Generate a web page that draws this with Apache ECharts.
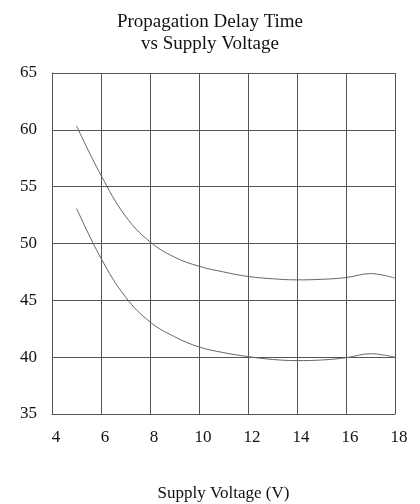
<!DOCTYPE html>
<html>
<head>
<meta charset="utf-8">
<script src="https://cdn.jsdelivr.net/npm/echarts@6/dist/echarts.min.js"></script>
<style>html,body{margin:0;padding:0;background:#fff}#c{width:420px;height:504px}</style>
</head>
<body>
<div id="c"></div>
<script>
var voltage = [5, 6, 7, 8, 9, 10, 11, 12, 13, 14, 15, 16, 17, 18];
var upperDelay = [60.35, 56.0, 52.4, 50.15, 48.8, 48.0, 47.5, 47.1, 46.9, 46.8, 46.85, 47.0, 47.35, 46.95];
var lowerDelay = [53.1, 48.7, 45.3, 43.1, 41.8, 40.9, 40.4, 40.05, 39.8, 39.7, 39.75, 39.95, 40.3, 40.0];
var titleText = 'Propagation Delay Time\nvs Supply Voltage';
var xName = 'Supply Voltage (V)';

function pairs(xs, ys) { return xs.map(function (x, i) { return [x, ys[i]]; }); }

var font = '"Liberation Serif", "Times New Roman", serif';
var chart = echarts.init(document.getElementById('c'));
chart.setOption({
  backgroundColor: '#fff',
  animation: false,
  title: {
    text: titleText,
    left: 'center',
    top: 6,
    textStyle: { fontFamily: font, fontWeight: 'normal', fontSize: 19, color: '#111', lineHeight: 22 }
  },
  grid: { left: 52, right: 25, top: 73, bottom: 90, containLabel: false, outerBoundsMode: 'none' },
  xAxis: {
    type: 'value', min: 4, max: 18, interval: 2,
    name: xName, nameLocation: 'middle', nameGap: 71,
    nameTextStyle: { fontFamily: font, fontSize: 17, color: '#111' },
    axisLine: { show: true, lineStyle: { color: '#555', width: 1 } },
    axisTick: { show: false },
    axisLabel: { fontFamily: font, fontSize: 17, color: '#111', margin: 15, padding: [0, 0, 0, 8] },
    splitLine: { show: true, lineStyle: { color: '#555', width: 1 } }
  },
  yAxis: {
    type: 'value', min: 35, max: 65, interval: 5,
    axisLine: { show: true, lineStyle: { color: '#555', width: 1 } },
    axisTick: { show: false },
    axisLabel: { fontFamily: font, fontSize: 17, color: '#111', margin: 15 },
    splitLine: { show: true, lineStyle: { color: '#555', width: 1 } }
  },
  series: [
    { type: 'line', data: pairs(voltage, upperDelay), smooth: 0.4, symbol: 'none', lineStyle: { color: '#666', width: 1 } },
    { type: 'line', data: pairs(voltage, lowerDelay), smooth: 0.4, symbol: 'none', lineStyle: { color: '#666', width: 1 } }
  ]
});
</script>
</body>
</html>
